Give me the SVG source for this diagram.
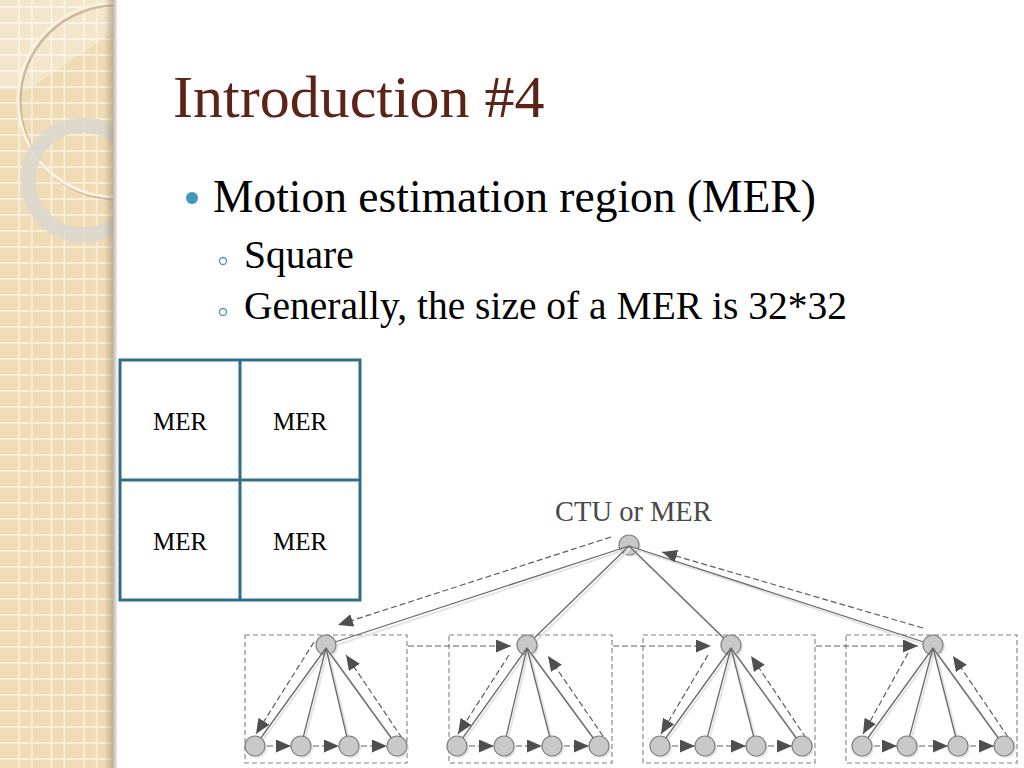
<svg xmlns="http://www.w3.org/2000/svg" width="1024" height="768" viewBox="0 0 1024 768">
<style>
.title{font-family:"Liberation Serif","Times New Roman",serif;font-size:60px;fill:#5c2418}
.b1{font-family:"Liberation Serif","Times New Roman",serif;font-size:45.5px;fill:#000}
.b2{font-family:"Liberation Serif","Times New Roman",serif;font-size:39.5px;fill:#000}
.mer{font-family:"Liberation Serif","Times New Roman",serif;font-size:25px;fill:#000;text-anchor:middle}
.ctu{font-family:"Liberation Serif","Times New Roman",serif;font-size:28.5px;fill:#4a4a4a}
.grid{fill:none;stroke:#2f6f86;stroke-width:3}
.node{fill:#c9c9c9;stroke:#808080;stroke-width:1.2}
.nshadow{fill:#e3e3e3}
.edge{stroke:#6a6a6a;stroke-width:1.3;fill:none}
.eshadow{stroke:#e4e4e4;stroke-width:2;fill:none}
.darr{stroke:#5e5e5e;stroke-width:1.2;stroke-dasharray:6 3;fill:none;marker-end:url(#ah)}
.box{fill:none;stroke:#808080;stroke-width:1.1;stroke-dasharray:5 3}
</style>
<defs>
<pattern id="gp" patternUnits="userSpaceOnUse" width="32.5" height="16">
<rect width="32.5" height="16" fill="#efdcb5"/>
<line x1="19" y1="0" x2="19" y2="16" stroke="#fbf4e4" stroke-width="1.5"/>
<line x1="32" y1="0" x2="32" y2="16" stroke="#fbf4e4" stroke-width="1.5"/>
<line x1="0" y1="7" x2="32.5" y2="7" stroke="#fbf4e4" stroke-width="1.5"/>
</pattern>
<linearGradient id="edgeg" x1="0" y1="0" x2="1" y2="0">
<stop offset="0" stop-color="#7a6a50" stop-opacity="0"/>
<stop offset="0.7" stop-color="#7a6a50" stop-opacity="0.45"/>
<stop offset="1" stop-color="#7a6a50" stop-opacity="0"/>
</linearGradient>
<clipPath id="bandclip"><rect x="0" y="0" width="113" height="768"/></clipPath>
<marker id="ah" markerUnits="userSpaceOnUse" markerWidth="17" markerHeight="14" refX="15" refY="6.5" orient="auto">
<path d="M0,0 L15,6.5 L0,13 z" fill="#4f4f4f"/>
</marker>
</defs>

<rect width="1024" height="768" fill="#fff"/>

<g id="band">
<rect x="0" y="0" width="113" height="768" fill="url(#gp)"/>
<g clip-path="url(#bandclip)">
<polygon points="0,0 113,0 113,32 27,90 0,90" fill="#fff" opacity="0.3"/>
<circle cx="117" cy="102" r="97" fill="none" stroke="#b49d76" stroke-width="3" opacity="0.6"/>
<circle cx="115" cy="100" r="97" fill="none" stroke="#faf3e3" stroke-width="3"/>
<circle cx="83" cy="180" r="55" fill="none" stroke="#d9d7cf" stroke-width="15" opacity="0.85"/>
</g>
<rect x="104" y="0" width="14" height="768" fill="url(#edgeg)"/>
</g>

<g id="title"><text class="title" x="173" y="117">Introduction #4</text></g>

<g id="bullets">
<circle cx="192" cy="198" r="6" fill="#3e9ab8"/>
<text class="b1" x="213" y="212">Motion estimation region (MER)</text>
<circle cx="223" cy="261" r="3.5" fill="none" stroke="#4a9ab5" stroke-width="1.3"/>
<text class="b2" x="244" y="268">Square</text>
<circle cx="223" cy="312" r="3.5" fill="none" stroke="#4a9ab5" stroke-width="1.3"/>
<text class="b2" x="244" y="319">Generally, the size of a MER is 32*32</text>
</g>

<g id="mer-grid">
<rect class="grid" x="120" y="360" width="240" height="240"/>
<line class="grid" x1="240" y1="360" x2="240" y2="600"/>
<line class="grid" x1="120" y1="480" x2="360" y2="480"/>
<text class="mer" x="180" y="430">MER</text>
<text class="mer" x="300" y="430">MER</text>
<text class="mer" x="180" y="550">MER</text>
<text class="mer" x="300" y="550">MER</text>
</g>

<g id="ctu-label"><text class="ctu" x="555" y="521">CTU or MER</text></g>

<g id="boxes">
<rect class="box" x="245" y="635" width="162" height="128"/>
<rect class="box" x="449" y="635" width="163" height="128"/>
<rect class="box" x="643" y="635" width="172" height="128"/>
<rect class="box" x="846" y="635" width="171" height="128"/>
</g>

<g id="root-node">
<circle class="nshadow" cx="631" cy="547" r="10"/>
<circle class="node" cx="629" cy="545" r="10"/>
</g>

<g id="connectors">
<g>
<line class="eshadow" x1="631" y1="548" x2="328" y2="648"/>
<line class="eshadow" x1="631" y1="548" x2="529" y2="648"/>
<line class="eshadow" x1="631" y1="548" x2="733" y2="648"/>
<line class="eshadow" x1="631" y1="548" x2="935" y2="648"/>
</g>
<line class="edge" x1="629" y1="546" x2="326" y2="645"/>
<line class="edge" x1="629" y1="546" x2="527" y2="645"/>
<line class="edge" x1="629" y1="546" x2="731" y2="645"/>
<line class="edge" x1="629" y1="546" x2="933" y2="645"/>
<line class="darr" x1="611" y1="537" x2="338" y2="625"/>
<line class="darr" x1="923" y1="628" x2="662" y2="552"/>
<line class="darr" x1="408" y1="646" x2="511" y2="646"/>
<line class="darr" x1="613" y1="646" x2="711" y2="646"/>
<line class="darr" x1="816" y1="646" x2="918" y2="646"/>
</g>

<g id="level1-nodes">
<circle class="nshadow" cx="328" cy="647" r="10"/><circle class="node" cx="326" cy="645" r="10"/>
<circle class="nshadow" cx="529" cy="647" r="10"/><circle class="node" cx="527" cy="645" r="10"/>
<circle class="nshadow" cx="733" cy="647" r="10"/><circle class="node" cx="731" cy="645" r="10"/>
<circle class="nshadow" cx="935" cy="647" r="10"/><circle class="node" cx="933" cy="645" r="10"/>
</g>

<g id="leaf-connectors">
<g>
<line class="eshadow" x1="328" y1="650" x2="257" y2="748"/><line class="eshadow" x1="328" y1="650" x2="303" y2="748"/><line class="eshadow" x1="328" y1="650" x2="351" y2="748"/><line class="eshadow" x1="328" y1="650" x2="399" y2="748"/>
<line class="eshadow" x1="529" y1="650" x2="459" y2="748"/><line class="eshadow" x1="529" y1="650" x2="506" y2="748"/><line class="eshadow" x1="529" y1="650" x2="554" y2="748"/><line class="eshadow" x1="529" y1="650" x2="601" y2="748"/>
<line class="eshadow" x1="733" y1="650" x2="662" y2="748"/><line class="eshadow" x1="733" y1="650" x2="707" y2="748"/><line class="eshadow" x1="733" y1="650" x2="758" y2="748"/><line class="eshadow" x1="733" y1="650" x2="804" y2="748"/>
<line class="eshadow" x1="935" y1="650" x2="864" y2="748"/><line class="eshadow" x1="935" y1="650" x2="909" y2="748"/><line class="eshadow" x1="935" y1="650" x2="960" y2="748"/><line class="eshadow" x1="935" y1="650" x2="1006" y2="748"/>
</g>
<line class="edge" x1="326" y1="648" x2="255" y2="746"/><line class="edge" x1="326" y1="648" x2="301" y2="746"/><line class="edge" x1="326" y1="648" x2="349" y2="746"/><line class="edge" x1="326" y1="648" x2="397" y2="746"/>
<line class="edge" x1="527" y1="648" x2="457" y2="746"/><line class="edge" x1="527" y1="648" x2="504" y2="746"/><line class="edge" x1="527" y1="648" x2="552" y2="746"/><line class="edge" x1="527" y1="648" x2="599" y2="746"/>
<line class="edge" x1="731" y1="648" x2="660" y2="746"/><line class="edge" x1="731" y1="648" x2="705" y2="746"/><line class="edge" x1="731" y1="648" x2="756" y2="746"/><line class="edge" x1="731" y1="648" x2="802" y2="746"/>
<line class="edge" x1="933" y1="648" x2="862" y2="746"/><line class="edge" x1="933" y1="648" x2="907" y2="746"/><line class="edge" x1="933" y1="648" x2="958" y2="746"/><line class="edge" x1="933" y1="648" x2="1004" y2="746"/>

<line class="darr" x1="314" y1="642" x2="256" y2="734"/>
<line class="darr" x1="402" y1="738" x2="346" y2="655"/>
<line class="darr" x1="509" y1="655" x2="458" y2="734"/>
<line class="darr" x1="603" y1="736" x2="548" y2="656"/>
<line class="darr" x1="708" y1="655" x2="661" y2="734"/>
<line class="darr" x1="806" y1="738" x2="751" y2="656"/>
<line class="darr" x1="908" y1="653" x2="863" y2="734"/>
<line class="darr" x1="1008" y1="737" x2="953" y2="656"/>

<line class="darr" x1="267" y1="746" x2="291" y2="746"/>
<line class="darr" x1="313" y1="746" x2="339" y2="746"/>
<line class="darr" x1="361" y1="746" x2="387" y2="746"/>
<line class="darr" x1="469" y1="746" x2="494" y2="746"/>
<line class="darr" x1="516" y1="746" x2="542" y2="746"/>
<line class="darr" x1="564" y1="746" x2="589" y2="746"/>
<line class="darr" x1="672" y1="746" x2="695" y2="746"/>
<line class="darr" x1="717" y1="746" x2="746" y2="746"/>
<line class="darr" x1="768" y1="746" x2="792" y2="746"/>
<line class="darr" x1="874" y1="746" x2="897" y2="746"/>
<line class="darr" x1="919" y1="746" x2="948" y2="746"/>
<line class="darr" x1="970" y1="746" x2="994" y2="746"/>
</g>

<g id="leaf-nodes">
<circle class="nshadow" cx="257" cy="748" r="10"/><circle class="node" cx="255" cy="746" r="10"/>
<circle class="nshadow" cx="303" cy="748" r="10"/><circle class="node" cx="301" cy="746" r="10"/>
<circle class="nshadow" cx="351" cy="748" r="10"/><circle class="node" cx="349" cy="746" r="10"/>
<circle class="nshadow" cx="399" cy="748" r="10"/><circle class="node" cx="397" cy="746" r="10"/>
<circle class="nshadow" cx="459" cy="748" r="10"/><circle class="node" cx="457" cy="746" r="10"/>
<circle class="nshadow" cx="506" cy="748" r="10"/><circle class="node" cx="504" cy="746" r="10"/>
<circle class="nshadow" cx="554" cy="748" r="10"/><circle class="node" cx="552" cy="746" r="10"/>
<circle class="nshadow" cx="601" cy="748" r="10"/><circle class="node" cx="599" cy="746" r="10"/>
<circle class="nshadow" cx="662" cy="748" r="10"/><circle class="node" cx="660" cy="746" r="10"/>
<circle class="nshadow" cx="707" cy="748" r="10"/><circle class="node" cx="705" cy="746" r="10"/>
<circle class="nshadow" cx="758" cy="748" r="10"/><circle class="node" cx="756" cy="746" r="10"/>
<circle class="nshadow" cx="804" cy="748" r="10"/><circle class="node" cx="802" cy="746" r="10"/>
<circle class="nshadow" cx="864" cy="748" r="10"/><circle class="node" cx="862" cy="746" r="10"/>
<circle class="nshadow" cx="909" cy="748" r="10"/><circle class="node" cx="907" cy="746" r="10"/>
<circle class="nshadow" cx="960" cy="748" r="10"/><circle class="node" cx="958" cy="746" r="10"/>
<circle class="nshadow" cx="1006" cy="748" r="10"/><circle class="node" cx="1004" cy="746" r="10"/>
</g>
</svg>
